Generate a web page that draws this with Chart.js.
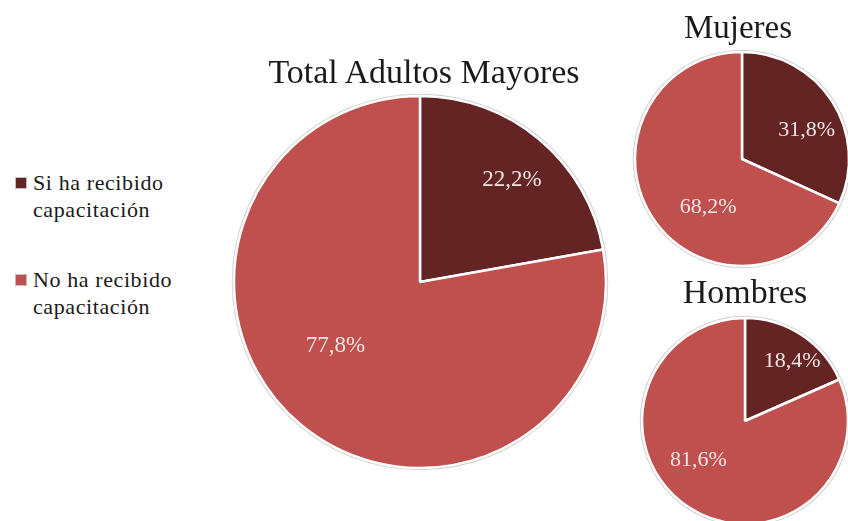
<!DOCTYPE html>
<html>
<head>
<meta charset="utf-8">
<script src="https://cdn.jsdelivr.net/npm/chart.js@4.4.1/dist/chart.umd.min.js"></script>
<style>
  html, body { margin:0; padding:0; background:#fff; }
  body { width:848px; height:521px; overflow:hidden; position:relative; font-family:"Liberation Serif","DejaVu Serif",serif; }
  .box { position:absolute; }
  .title { position:absolute; color:#1a1a1a; white-space:nowrap; transform:translateX(-50%); }
  .legend { position:absolute; left:15px; font-size:22px; line-height:27px; color:#1a1a1a; letter-spacing:0.6px; }
  .item { position:relative; padding-left:18px; }
  .sw { position:absolute; left:0; top:8px; width:10px; height:10px; border:1px solid #bfbfbf; }
</style>
</head>
<body>
<script>
// ---- data ----
const categories = ["Si ha recibido capacitación", "No ha recibido capacitación"];
const chartTitles = ["Total Adultos Mayores", "Mujeres", "Hombres"];
const totalValues = [22.2, 77.8];
const mujeresValues = [31.8, 68.2];
const hombresValues = [18.4, 81.6];
const sliceColors = ["#632423", "#C0504D"];

// ---- layout / style (not data) ----
const layouts = [
  { values: totalValues,   cx: 420, cy: 282, r: 186, title: chartTitles[0], tx: 424, ty: 53, tsize: 34, lsize: 23,
    labelFrac: [0.74, 0.57], labelShift: [2, 13] },
  { values: mujeresValues, cx: 742, cy: 159, r: 107, title: chartTitles[1], tx: 738, ty: 9, tsize: 33, lsize: 22,
    labelFrac: [0.66, 0.55], labelShift: [9, -22] },
  { values: hombresValues, cx: 745, cy: 421, r: 103, title: chartTitles[2], tx: 745, ty: 273, tsize: 34, lsize: 22,
    labelFrac: [0.74, 0.59], labelShift: [5, 17] }
];

const ringPlugin = {
  id: 'ring',
  beforeDatasetsDraw(chart) {
    const arc = chart.getDatasetMeta(0).data[0];
    if (!arc) return;
    const ctx = chart.ctx;
    ctx.save();
    ctx.beginPath();
    ctx.arc(arc.x, arc.y, arc.outerRadius + 1.5, 0, Math.PI * 2);
    ctx.strokeStyle = '#d0d0d0';
    ctx.lineWidth = 1.5;
    ctx.stroke();
    ctx.restore();
  }
};

const labelPlugin = {
  id: 'pctLabels',
  afterDatasetsDraw(chart, args, opts) {
    const ctx = chart.ctx;
    const meta = chart.getDatasetMeta(0);
    const vals = chart.data.datasets[0].data;
    ctx.save();
    ctx.font = opts.size + 'px "Liberation Serif", serif';
    ctx.fillStyle = '#F2E4E4';
    ctx.textAlign = 'center';
    ctx.textBaseline = 'middle';
    meta.data.forEach((a, i) => {
      const mid = (a.startAngle + a.endAngle) / 2 + opts.shift[i] * Math.PI / 180;
      const rr = a.outerRadius * opts.frac[i];
      const x = a.x + Math.cos(mid) * rr;
      const y = a.y + Math.sin(mid) * rr;
      ctx.fillText(vals[i].toFixed(1).replace('.', ',') + '%', x, y);
    });
    ctx.restore();
  }
};

layouts.forEach(L => {
  const pad = 10;
  const size = 2 * L.r + 2 * pad;
  const div = document.createElement('div');
  div.className = 'box';
  div.style.left = (L.cx - size / 2) + 'px';
  div.style.top = (L.cy - size / 2) + 'px';
  div.style.width = size + 'px';
  div.style.height = size + 'px';
  const cv = document.createElement('canvas');
  cv.width = size; cv.height = size;
  div.appendChild(cv);
  document.body.appendChild(div);

  const t = document.createElement('div');
  t.className = 'title';
  t.style.left = L.tx + 'px';
  t.style.top = L.ty + 'px';
  t.style.fontSize = L.tsize + 'px';
  t.textContent = L.title;
  document.body.appendChild(t);

  new Chart(cv, {
    type: 'pie',
    data: {
      labels: categories,
      datasets: [{
        data: L.values,
        backgroundColor: sliceColors,
        borderColor: '#ffffff',
        borderWidth: 2.5
      }]
    },
    options: {
      responsive: false,
      animation: false,
      radius: L.r,
      layout: { padding: 0 },
      plugins: {
        legend: { display: false },
        tooltip: { enabled: false },
        title: { display: false },
        pctLabels: { size: L.lsize, frac: L.labelFrac, shift: L.labelShift }
      }
    },
    plugins: [ringPlugin, labelPlugin]
  });
});

// legend
const lg = document.createElement('div');
lg.className = 'legend';
lg.style.top = '169px';
categories.forEach((c, i) => {
  const it = document.createElement('div');
  it.className = 'item';
  it.style.marginBottom = i === 0 ? '43px' : '0';
  const sw = document.createElement('span');
  sw.className = 'sw';
  sw.style.background = sliceColors[i];
  it.appendChild(sw);
  const words = c.split(' ');
  const tx = document.createElement('div');
  tx.innerHTML = words.slice(0, 3).join(' ') + '<br>' + words.slice(3).join(' ');
  it.appendChild(tx);
  lg.appendChild(it);
});
document.body.appendChild(lg);
</script>
</body>
</html>
